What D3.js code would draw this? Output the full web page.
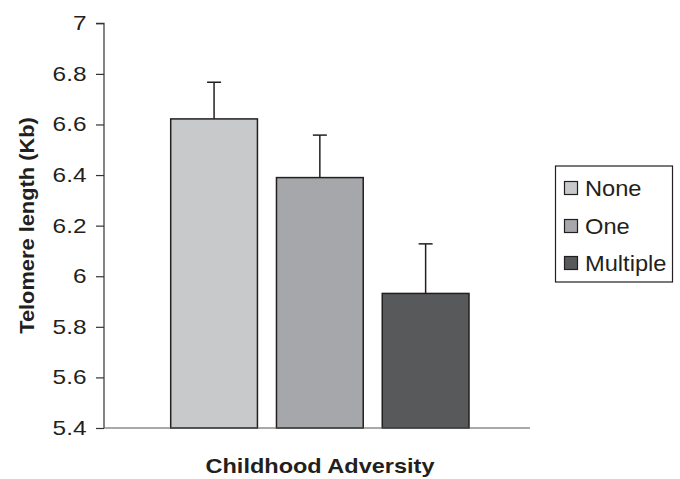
<!DOCTYPE html>
<html><head><meta charset="utf-8">
<script src="https://cdn.jsdelivr.net/npm/d3@7/dist/d3.min.js"></script>
<style>body{margin:0;background:#fff}svg{display:block}text{font-family:"Liberation Sans",Arial,sans-serif;fill:#231f20}</style>
</head><body><svg id="c" width="680" height="479"></svg>
<script>
const groups = ["None", "One", "Multiple"];
const values = [6.622, 6.39, 5.932];
const errors = [0.145, 0.168, 0.196];
const colors = ["#c8c9cb", "#a6a7aa", "#58595b"];
const yTicks = [5.4, 5.6, 5.8, 6, 6.2, 6.4, 6.6, 6.8, 7];
const xTitle = "Childhood Adversity";
const yTitle = "Telomere length (Kb)";

const svg = d3.select("#c");
const pLeft = 104, pRight = 530, pTop = 23.3, pBottom = 428;
const y = d3.scaleLinear().domain([5.4, 7]).range([pBottom, pTop]);
const x = d3.scaleBand().domain(groups).range([170.7, 469]).paddingInner(0.18);

const tickScale = 1.22;
// y axis
const ya = svg.append("g").attr("transform", `translate(${pLeft},0)`)
  .call(d3.axisLeft(y).tickValues(yTicks).tickFormat(d => d3.format("")(d)).tickSize(8).tickPadding(9.5));
ya.select(".domain").attr("stroke", "#333").attr("stroke-width", 1.2).attr("d", `M-8,${pTop}H0V${pBottom}`);
ya.selectAll(".tick line").attr("stroke", "#333").attr("stroke-width", 1.2);
ya.selectAll(".tick text").attr("font-size", 20).attr("fill", "#231f20")
  .attr("font-family", "Liberation Sans, Arial, sans-serif")
  .attr("x", -17.5 / tickScale).attr("transform", `scale(${tickScale},1)`);

// bars
svg.selectAll("rect.bar").data(groups).join("rect").attr("class", "bar")
  .attr("x", d => x(d)).attr("width", x.bandwidth())
  .attr("y", (d, i) => y(values[i])).attr("height", (d, i) => pBottom - y(values[i]))
  .attr("fill", (d, i) => colors[i]).attr("stroke", "#231f20").attr("stroke-width", 1.5);

// error bars
const eb = svg.selectAll("g.err").data(groups).join("g").attr("class", "err");
eb.append("line").attr("x1", d => x(d) + x.bandwidth() / 2).attr("x2", d => x(d) + x.bandwidth() / 2)
  .attr("y1", (d, i) => y(values[i])).attr("y2", (d, i) => y(values[i] + errors[i]))
  .attr("stroke", "#231f20").attr("stroke-width", 1.5);
eb.append("line").attr("x1", d => x(d) + x.bandwidth() / 2 - 7).attr("x2", d => x(d) + x.bandwidth() / 2 + 7)
  .attr("y1", (d, i) => y(values[i] + errors[i])).attr("y2", (d, i) => y(values[i] + errors[i]))
  .attr("stroke", "#231f20").attr("stroke-width", 1.5);

// x axis line
svg.append("line").attr("x1", pLeft).attr("x2", pRight).attr("y1", pBottom).attr("y2", pBottom)
  .attr("stroke", "#555").attr("stroke-width", 1.2);

// titles
svg.append("text").attr("transform", `translate(320,473) scale(1.12,1)`).attr("text-anchor", "middle")
  .attr("font-size", 21).attr("font-weight", "bold").text(xTitle);
svg.append("text").attr("transform", `translate(34,225.5) rotate(-90) scale(1.12,1)`).attr("text-anchor", "middle")
  .attr("font-size", 19.5).attr("font-weight", "bold").text(yTitle);

// legend
const lg = svg.append("g");
lg.append("rect").attr("x", 555.5).attr("y", 166).attr("width", 117).attr("height", 116)
  .attr("fill", "#fff").attr("stroke", "#231f20").attr("stroke-width", 1.2);
const rowY = [188, 226, 263];
groups.forEach((g, i) => {
  lg.append("rect").attr("x", 564.5).attr("y", rowY[i] - 6.5).attr("width", 13).attr("height", 13)
    .attr("fill", colors[i]).attr("stroke", "#231f20").attr("stroke-width", 1.2);
  lg.append("text").attr("transform", `translate(585,${rowY[i] + 8}) scale(1.1,1)`).attr("font-size", 21.5).text(g);
});
</script></body></html>
